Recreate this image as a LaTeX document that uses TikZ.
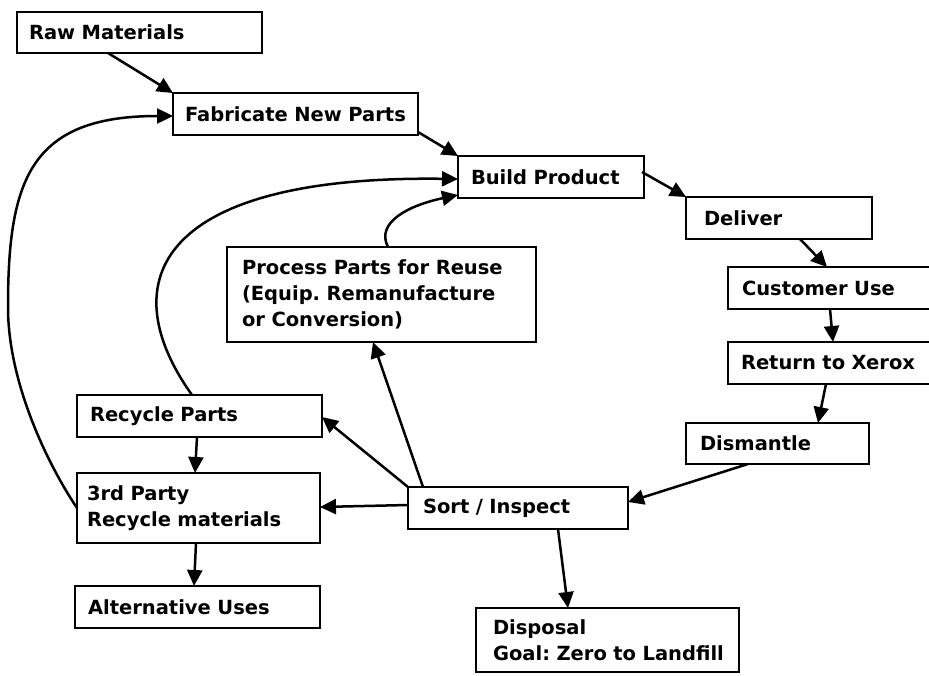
\documentclass[tikz,border=0pt]{standalone}
\usepackage{fontspec}
\usetikzlibrary{arrows.meta}
\newfontfamily\boxfam{DejaVu Sans}
\newcommand\boxfont{\boxfam\bfseries\frenchspacing\fontsize{19.5}{26}\selectfont}
\tikzset{
  box/.style={draw, line width=2.5pt, rectangle, inner ysep=0pt, outer sep=0pt, align=left, font=\boxfont},
  arr/.style={line width=2.5pt, -{Triangle[length=16pt,width=15pt]}}
}
\begin{document}
\begin{tikzpicture}[x=1pt,y=-1pt]
\clip (0,0) rectangle (929,675);
\fill[white] (0,0) rectangle (929,675);
% boxes
\node[box, text width=221pt, inner xsep=12pt, minimum height=41pt] (raw) at (139.5,32.5) {Raw Materials};
\node[box, text width=221pt, inner xsep=12pt, minimum height=42pt] (fab) at (295.5,114) {Fabricate New Parts};
\node[box, text width=160pt, inner xsep=13pt, minimum height=42pt] (build) at (551,177) {Build Product};
\node[box, text width=150pt, inner xsep=18pt, minimum height=42pt] (deliver) at (779,218) {Deliver};
\node[box, text width=189pt, inner xsep=14pt, minimum height=42pt] (cust) at (836.5,288) {Customer Use};
\node[box, text width=191pt, inner xsep=13pt, minimum height=42pt] (ret) at (836.5,363) {Return to Xerox};
\node[box, text width=155pt, inner xsep=14pt, minimum height=41pt] (dis) at (777.5,443.5) {Dismantle};
\node[box, text width=279pt, inner xsep=15pt, minimum height=95pt] (proc) at (381.5,294.5) {\mbox{Process Parts for Reuse}\\\mbox{(Equip. Remanufacture}\\\mbox{or Conversion)}};
\node[box, text width=219pt, inner xsep=13pt, minimum height=42pt] (recyc) at (199.5,416) {Recycle Parts};
\node[box, text width=223pt, inner xsep=10pt, minimum height=70pt] (third) at (198.5,508) {3rd Party\\\mbox{Recycle materials}};
\node[box, text width=219pt, inner xsep=13pt, minimum height=42pt] (alt) at (197.5,607) {Alternative Uses};
\node[box, text width=190pt, inner xsep=15pt, minimum height=42pt] (sort) at (518,508) {Sort / Inspect};
\node[box, text width=229pt, inner xsep=17pt, minimum height=64pt] (disp) at (607.5,640) {Disposal\\\mbox{Goal: Zero to Landfill}};
\coordinate (lbend) at (8,307);
% straight connectors
\draw[arr] ([xshift=91pt]raw.south west) -- (fab.north west);
\draw[arr] ([yshift=3pt]fab.south east) -- (build.north west);
\draw[arr] ([yshift=5pt,xshift=-2pt]build.east) -- (deliver.north west);
\draw[arr] ([xshift=114pt]deliver.south west) -- ([xshift=99pt]cust.north west);
\draw[arr] ([xshift=102pt]cust.south west) -- ([xshift=105pt]ret.north west);
\draw[arr] ([xshift=98pt]ret.south west) -- ([xshift=132pt]dis.north west);
\draw[arr] ([xshift=62pt]dis.south west) -- ([yshift=-15pt]sort.north east);
\draw[arr] ([xshift=150pt]sort.south west) -- ([xshift=92pt]disp.north west);
\draw[arr] ([yshift=3pt]sort.west) -- ([yshift=1pt]third.east);
\draw[arr] (sort.north west) -- ([yshift=-22pt]recyc.north east);
\draw[arr] ([xshift=15pt]sort.north west) -- ([xshift=146pt]proc.south west);
\draw[arr] ([xshift=120pt]recyc.south west) -- ([xshift=118pt]third.north west);
\draw[arr] ([xshift=119pt]third.south west) -- ([xshift=119pt]alt.north west);
% curved connectors
\draw[arr] ([xshift=161pt]proc.north west) .. controls +(-13,-25) and +(-48,10) .. ([yshift=3pt]build.south west);
\draw[arr] ([xshift=115pt]recyc.north west) .. controls +(-82,-115) and +(-298,-4) .. ([yshift=-2pt]build.west);
\draw[arr] (third.west) .. controls +(-32,-48) and +(0,73) .. (lbend)
  .. controls +(0,-127) and +(-143,0) .. ([yshift=-2pt]fab.west);
\end{tikzpicture}
\end{document}
